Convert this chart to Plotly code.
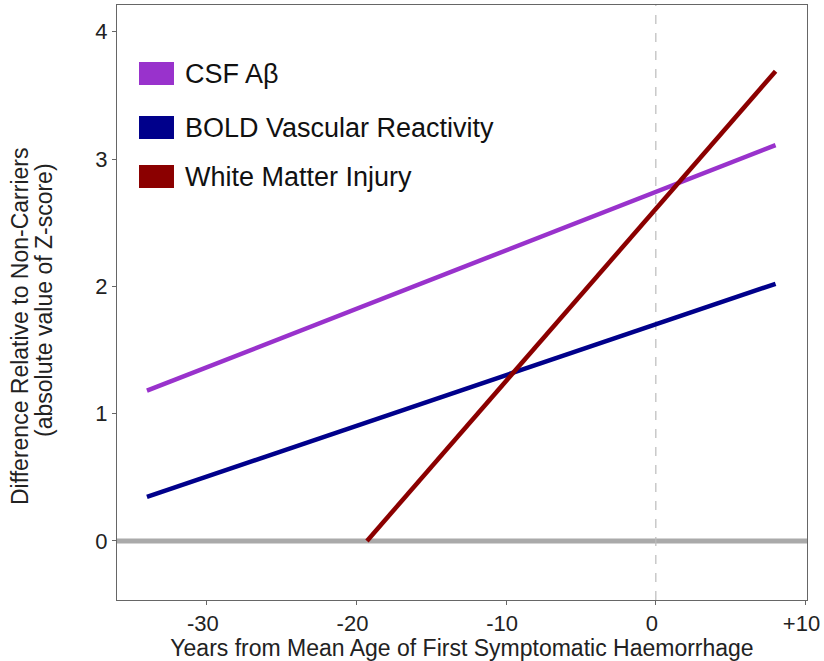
import plotly.graph_objects as go

# Data
series_names = ["CSF Aβ", "BOLD Vascular Reactivity", "White Matter Injury"]
series_colors = ["#9932CC", "#00008B", "#8B0000"]
csf_x = [-34, 8]
csf_y = [1.18, 3.11]
bold_x = [-34, 8]
bold_y = [0.346, 2.02]
wmi_x = [-19.3, 8]
wmi_y = [0.0, 3.69]
x_tickvals = [-30, -20, -10, 0, 10]
x_ticktext = ["-30", "-20", "-10", "0", "+10"]
y_tickvals = [0, 1, 2, 3, 4]
y_title_lines = ["Difference Relative to Non-Carriers", "(absolute value of Z-score)"]
x_title = "Years from Mean Age of First Symptomatic Haemorrhage"

FONT = "Liberation Sans, Arial, sans-serif"
TXT = "#222222"

fig = go.Figure()

# zero reference line
fig.add_hline(y=0, line=dict(color="#AAAAAA", width=5), layer="below")
# vertical dashed line at 0
fig.add_vline(x=0, line=dict(color="#BBBBBB", width=1.2, dash="dash"), layer="below")

xs = [csf_x, bold_x, wmi_x]
ys = [csf_y, bold_y, wmi_y]
for name, color, x, y in zip(series_names, series_colors, xs, ys):
    fig.add_trace(go.Scatter(x=x, y=y, mode="lines", name=name,
                             line=dict(color=color, width=4.5), showlegend=False))

# manual legend (rectangles + text)
leg_tops = [0.904, 0.8134, 0.731]
rect_h = 0.0386
for name, color, top in zip(series_names, series_colors, leg_tops):
    fig.add_shape(type="rect", xref="paper", yref="paper",
                  x0=0.0319, x1=0.0826, y0=top - rect_h, y1=top,
                  fillcolor=color, line=dict(width=0))
    fig.add_annotation(x=0.096, y=top - rect_h / 2, xref="paper", yref="paper",
                       text=name, showarrow=False, xanchor="left", yanchor="middle",
                       font=dict(family=FONT, size=27, color="#111111"))

# y-axis title as two rotated lines
for line_text, xp, yp in zip(y_title_lines, [-0.1406, -0.1058], [0.4605, 0.5042]):
    fig.add_annotation(x=xp, y=yp, xref="paper", yref="paper", text=line_text,
                       textangle=-90, showarrow=False, xanchor="center", yanchor="middle",
                       font=dict(family=FONT, size=23, color=TXT))

fig.update_layout(
    width=824, height=661,
    margin=dict(l=117, r=17, t=5, b=61),
    plot_bgcolor="white", paper_bgcolor="white",
    font=dict(family=FONT, color=TXT),
    xaxis=dict(range=[-36.0, 10.1], tickvals=x_tickvals, ticktext=x_ticktext,
               showgrid=False, zeroline=False, showline=True, linecolor="#666666",
               linewidth=1, mirror=True, ticks="outside", ticklen=4, tickcolor="#666666",
               ticklabeloverflow="allow", ticklabelshift=-4,
               tickfont=dict(size=22, family=FONT, color=TXT),
               title=dict(text=x_title, font=dict(size=23, family=FONT, color=TXT), standoff=0)),
    yaxis=dict(range=[-0.464, 4.21], tickvals=y_tickvals,
               showgrid=False, zeroline=False, showline=True, linecolor="#666666",
               linewidth=1, mirror=True, ticks="outside", ticklen=4, tickcolor="#666666",
               tickfont=dict(size=22, family=FONT, color=TXT)),
)

fig.write_html(
    "out.html",
    config={"displayModeBar": False},
    post_script=(
        "document.documentElement.style.overflow='hidden';"
        "document.body.style.margin='0';document.body.style.overflow='hidden';"
        "document.querySelectorAll('.plotly-graph-div').forEach(function(d){d.style.overflow='hidden';});"
    ),
)
